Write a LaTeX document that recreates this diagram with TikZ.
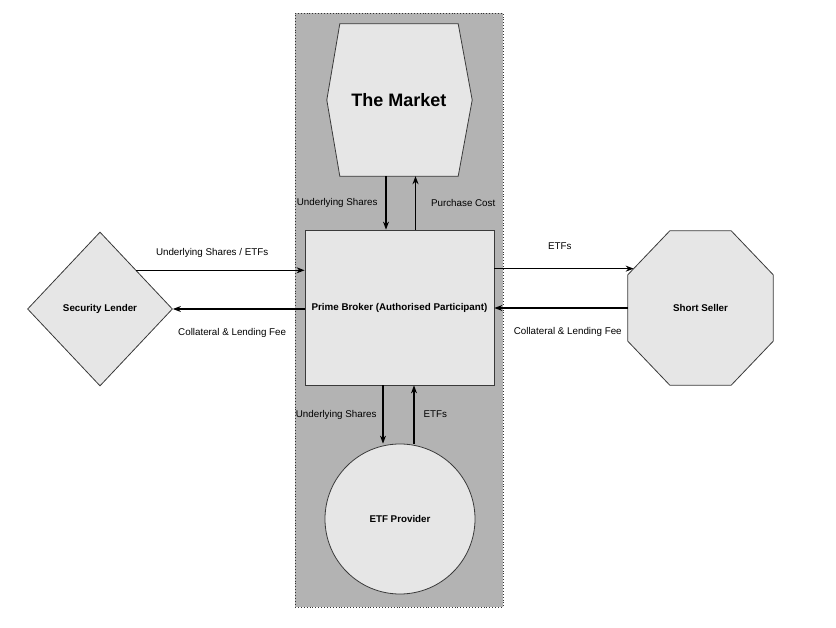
\documentclass[tikz,border=0pt]{standalone}
\usepackage{fontspec}
\setmainfont{Liberation Sans}
\usetikzlibrary{shapes.geometric,arrows.meta,positioning}
\definecolor{zonegray}{HTML}{B3B3B3}
\definecolor{boxgray}{HTML}{E6E6E6}
\definecolor{edgegray}{HTML}{3A3A3A}

\begin{document}
\begin{tikzpicture}[x=1pt,y=-1pt,
  party/.style={draw=edgegray,fill=boxgray,line width=0.8pt,inner sep=0pt,font=\fontsize{9.8}{11}\selectfont\bfseries},
  flow/.style={-{Stealth[length=8pt,width=6pt]},line width=1.1pt},
  lbl/.style={inner sep=0pt,font=\fontsize{9.8}{11}\selectfont}]
  \useasboundingbox (0,0) rectangle (836,628);
  % grey zone round the prime broker
  \node[draw=black!80,dotted,line width=0.9pt,fill=zonegray,minimum width=208,minimum height=594] (zone) at (399,310) {};
  % the market (hexagon drawn round an empty node)
  \node[minimum width=118,minimum height=152,inner sep=0pt] (market) at (399,100) {};
  \draw[party] (market.north west) -- (market.north east) -- ([xshift=14pt]market.east) -- (market.south east) -- (market.south west) -- ([xshift=-13pt]market.west) -- cycle;
  \node[font=\fontsize{18}{20}\selectfont\bfseries] (marketname) at (market) {The Market};
  \node[party,minimum width=189,minimum height=155] (pb) at (399.5,307.5) {Prime Broker (Authorised Participant)};
  \node[party,diamond,minimum width=145,minimum height=154] (lender) at (100,309) {Security Lender};
  % short seller (octagon drawn round an empty node)
  \node[minimum width=145,minimum height=154,inner sep=0pt] (seller) at (700.5,308) {};
  \draw[party] ([xshift=42pt]seller.north west) -- ([xshift=-42pt]seller.north east) -- ([yshift=-44pt]seller.north east) -- ([yshift=44pt]seller.south east) -- ([xshift=-42pt]seller.south east) -- ([xshift=42pt]seller.south west) -- ([yshift=44pt]seller.south west) coordinate (oct6) -- ([yshift=-44pt]seller.north west) coordinate (oct7) -- cycle;
  \path (oct7) -- ([xshift=42pt]seller.north west) coordinate[pos=0.14] (sellerin);
  \node[font=\fontsize{9.8}{11}\selectfont\bfseries] (sellername) at (seller) {Short Seller};
  \node[party,circle,minimum size=150] (provider) at (400,519) {ETF Provider};
  % flows
  \draw[flow] ([xshift=-13pt]market.south) -- ([xshift=-13pt]market.south |- pb.north) node[lbl,midway,left=8pt]{Underlying Shares};
  \draw[flow] ([xshift=16pt]pb.north) -- ([xshift=16pt]pb.north |- market.south) node[lbl,midway,right=15pt]{Purchase Cost};
  \draw[flow] ([xshift=-16.5pt]pb.south) -- ([xshift=-16.5pt]pb.south |- provider.north) node[lbl,midway,left=6pt]{Underlying Shares};
  \draw[flow] ([xshift=14.5pt]pb.south |- provider.north) -- ([xshift=14.5pt]pb.south) node[lbl,midway,right=9pt]{ETFs};
  \draw[flow] (lender.north east) -- (lender.north east -| pb.west) node[lbl,pos=0.45,above=12pt]{Underlying Shares / ETFs};
  \draw[flow] (pb.west |- lender.east) -- (lender.east) node[lbl,pos=0.55,below=19pt]{Collateral \& Lending Fee};
  \draw[flow] (pb.east |- sellerin) -- (sellerin) node[lbl,pos=0.47,above=18pt]{ETFs};
  \draw[flow] (seller.west) -- (seller.west -| pb.east) node[lbl,pos=0.45,below=19pt]{Collateral \& Lending Fee};
\end{tikzpicture}
\end{document}
